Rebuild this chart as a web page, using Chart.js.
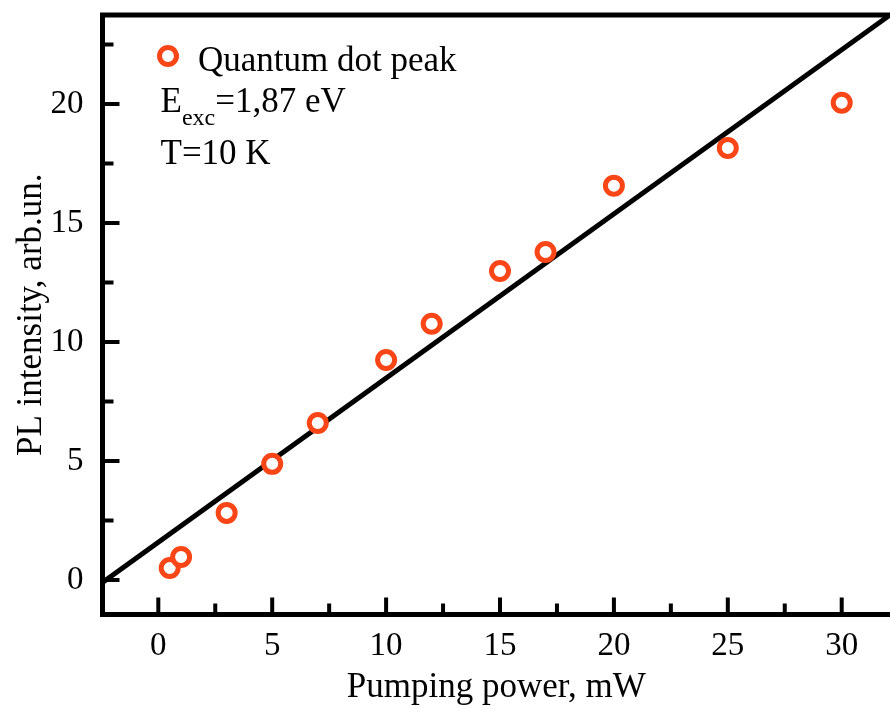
<!DOCTYPE html>
<html>
<head>
<meta charset="utf-8">
<script src="https://cdn.jsdelivr.net/npm/chart.js@4.4.0/dist/chart.umd.min.js"></script>
<style>
  html, body { margin: 0; padding: 0; background: #fff; }
  #wrap { width: 890px; height: 709px; }
</style>
</head>
<body>
<div id="wrap"><canvas id="pl-chart"></canvas></div>
<script>
// Measured PL intensity of the quantum dot line vs. pumping power
const power = [0.5, 1, 3, 5, 7, 10, 12, 15, 17, 20, 25, 30];
const intensity = [0.5, 0.97, 2.82, 4.88, 6.6, 9.24, 10.77, 12.98, 13.78, 16.57, 18.15, 20.05];

// Linear fit, end points
const fitPower = [-2.45, 32.12];
const fitIntensity = [-0.1, 23.74];

// Axis ticks
const xMajor = [0, 5, 10, 15, 20, 25, 30];
const xMinor = [2.5, 7.5, 12.5, 17.5, 22.5, 27.5];
const yMajor = [0, 5, 10, 15, 20];
const yMinor = [2.5, 7.5, 12.5, 17.5, 22.5];

const SERIF = "'Liberation Serif', 'Times New Roman', serif";
const MARKER = "#fa4616";

Chart.defaults.color = "#000";
Chart.defaults.font.family = SERIF;

// Closed frame (left, bottom, top) with inward ticks, plus the in-plot legend
const framePlugin = {
  id: "frame",
  afterDraw(chart) {
    const { ctx, chartArea: a, scales } = chart;
    const x = scales.x;
    const y = scales.y;
    ctx.save();
    ctx.strokeStyle = "#000";

    ctx.lineWidth = 4;
    ctx.lineCap = "butt";
    ctx.beginPath();
    xMajor.forEach((v) => {
      const px = x.getPixelForValue(v);
      ctx.moveTo(px, a.bottom);
      ctx.lineTo(px, a.bottom - 17);
    });
    xMinor.forEach((v) => {
      const px = x.getPixelForValue(v);
      ctx.moveTo(px, a.bottom);
      ctx.lineTo(px, a.bottom - 11);
    });
    yMajor.forEach((v) => {
      const py = y.getPixelForValue(v);
      ctx.moveTo(a.left, py);
      ctx.lineTo(a.left + 17, py);
    });
    yMinor.forEach((v) => {
      const py = y.getPixelForValue(v);
      ctx.moveTo(a.left, py);
      ctx.lineTo(a.left + 11, py);
    });
    ctx.stroke();

    ctx.lineWidth = 5;
    ctx.lineCap = "square";
    ctx.beginPath();
    ctx.moveTo(chart.width + 5, a.top);
    ctx.lineTo(a.left, a.top);
    ctx.lineTo(a.left, a.bottom);
    ctx.lineTo(chart.width + 5, a.bottom);
    ctx.stroke();

    // legend marker + labels
    ctx.lineWidth = 5;
    ctx.strokeStyle = MARKER;
    ctx.fillStyle = "#fff";
    ctx.beginPath();
    ctx.arc(168, 56, 8.5, 0, Math.PI * 2);
    ctx.fill();
    ctx.stroke();

    ctx.fillStyle = "#000";
    ctx.textBaseline = "alphabetic";
    ctx.textAlign = "left";
    ctx.font = "35px " + SERIF;
    ctx.fillText("Quantum dot peak", 198, 71);

    let tx = 160.5;
    ctx.fillText("E", tx, 112);
    tx += ctx.measureText("E").width;
    ctx.font = "24px " + SERIF;
    ctx.fillText("exc", tx, 125);
    tx += ctx.measureText("exc").width;
    ctx.font = "35px " + SERIF;
    ctx.fillText("=1,87 eV", tx, 112);

    ctx.fillText("T=10 K", 160.5, 164);
    ctx.restore();
  },
};

new Chart(document.getElementById("pl-chart"), {
  type: "scatter",
  data: {
    datasets: [
      {
        label: "Quantum dot peak",
        data: power.map((p, i) => ({ x: p, y: intensity[i] })),
        pointStyle: "circle",
        pointRadius: 8.5,
        pointHoverRadius: 8.5,
        pointBorderWidth: 5,
        pointBorderColor: MARKER,
        pointBackgroundColor: "#fff",
        showLine: false,
      },
      {
        label: "Fit",
        data: fitPower.map((p, i) => ({ x: p, y: fitIntensity[i] })),
        showLine: true,
        borderColor: "#000",
        borderWidth: 5,
        pointRadius: 0,
        pointHoverRadius: 0,
        clip: 0,
      },
    ],
  },
  options: {
    responsive: true,
    maintainAspectRatio: false,
    animation: false,
    events: [],
    layout: {
      autoPadding: false, // keep the plot flush with the right edge
      padding: { top: 15, right: 0, bottom: 0, left: 0 },
    },
    plugins: {
      legend: { display: false },
      tooltip: { enabled: false },
    },
    scales: {
      x: {
        type: "linear",
        min: -2.45,
        max: 32.12,
        afterBuildTicks: (scale) => {
          scale.ticks = xMajor.map((v) => ({ value: v }));
        },
        afterFit: (scale) => {
          scale.height = 94.5;
          scale.paddingLeft = 0;
          scale.paddingRight = 0;
        },
        grid: { display: false, drawTicks: false },
        border: { display: false },
        ticks: {
          font: { size: 33 },
          padding: 12,
          maxRotation: 0,
          autoSkip: false,
        },
        title: {
          display: true,
          text: "Pumping power, mW",
          font: { size: 35 },
          padding: { top: 0, bottom: 0 },
        },
      },
      y: {
        type: "linear",
        min: -1.45,
        max: 23.74,
        afterBuildTicks: (scale) => {
          scale.ticks = yMajor.map((v) => ({ value: v }));
        },
        afterFit: (scale) => {
          scale.width = 102.5;
          scale.paddingTop = 0;
          scale.paddingBottom = 0;
        },
        grid: { display: false, drawTicks: false },
        border: { display: false },
        ticks: {
          font: { size: 33 },
          padding: 19,
          autoSkip: false,
        },
        title: {
          display: true,
          text: "PL intensity, arb.un.",
          font: { size: 35 },
          padding: { top: 11, bottom: 0 },
        },
      },
    },
  },
  plugins: [framePlugin],
});
</script>
</body>
</html>
